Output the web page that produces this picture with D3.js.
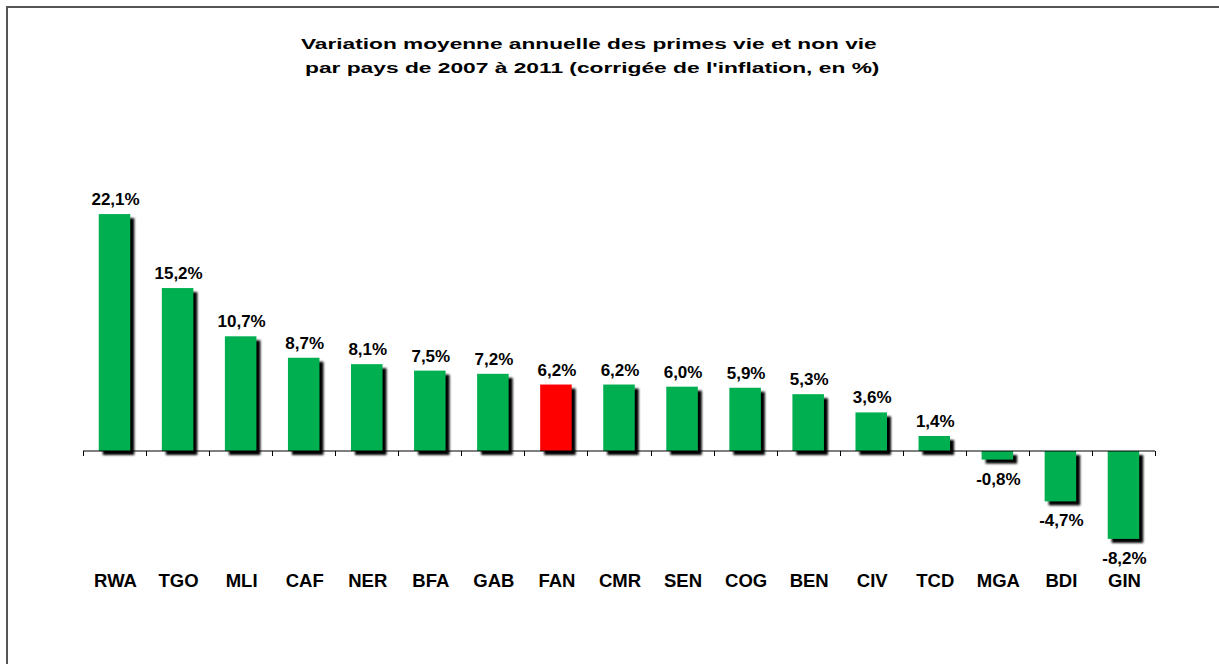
<!DOCTYPE html>
<html>
<head>
<meta charset="utf-8">
<script src="https://cdn.jsdelivr.net/npm/d3@7"></script>
<style>
  body { margin: 0; background: #fff; }
  text { font-family: Arial, "Liberation Sans", sans-serif; font-weight: bold; fill: #000; }
</style>
</head>
<body>
<script>
// data
var countries = ["RWA", "TGO", "MLI", "CAF", "NER", "BFA", "GAB", "FAN", "CMR", "SEN", "COG", "BEN", "CIV", "TCD", "MGA", "BDI", "GIN"];
var values = [22.1, 15.2, 10.7, 8.7, 8.1, 7.5, 7.2, 6.2, 6.2, 6.0, 5.9, 5.3, 3.6, 1.4, -0.8, -4.7, -8.2];
var highlight = ["FAN"];
var titleLines = ["Variation moyenne annuelle des primes vie et non vie",
                  "par pays de 2007 à 2011 (corrigée de l'inflation, en %)"];

var W = 1219, H = 664;

var svg = d3.select("body").append("svg")
    .attr("width", W)
    .attr("height", H);

// soft edge for the bar shadows
var defs = svg.append("defs");
var f = defs.append("filter").attr("id", "blur")
    .attr("x", "-20%").attr("y", "-20%").attr("width", "140%").attr("height", "140%");
f.append("feGaussianBlur").attr("stdDeviation", 0.8);

// frame
svg.append("rect")
    .attr("x", 7).attr("y", 7)
    .attr("width", W + 20).attr("height", H + 20)
    .attr("fill", "none")
    .attr("stroke", "#555")
    .attr("stroke-width", 2);

// title: the original is drawn wide and flat, so fit it to the measured box
var titleX = [301, 305], titleW = [576, 575], titleY = [49, 73];
var titleSize = 20, capH = 11;
svg.selectAll("text.title")
    .data(titleLines)
    .enter().append("text")
    .attr("class", "title")
    .attr("font-size", titleSize)
    .text(function(d) { return d; })
    .attr("transform", function(d, i) {
      var sx = titleW[i] / this.getComputedTextLength();
      var sy = capH / (0.716 * titleSize);
      return "translate(" + titleX[i] + "," + titleY[i] + ") scale(" + sx + "," + sy + ")";
    });

// scales
var x = d3.scaleBand()
    .domain(countries)
    .range([83, 1155])
    .paddingInner(0.5)
    .paddingOuter(0.25);

var y = d3.scaleLinear()
    .domain([-10, 25])
    .range([451 + 10 * 10.72, 451 - 25 * 10.72]);

var bars = svg.append("g");

var rows = countries.map(function(c, i) { return {c: c, v: values[i]}; });

// shadows
bars.selectAll("rect.shadow")
    .data(rows)
    .enter().append("rect")
    .attr("class", "shadow")
    .attr("x", function(d) { return x(d.c) + 4; })
    .attr("y", function(d) { return Math.min(y(d.v), y(0)) + 4; })
    .attr("width", x.bandwidth())
    .attr("height", function(d) { return Math.abs(y(d.v) - y(0)); })
    .attr("fill", "#000")
    .attr("filter", "url(#blur)");

// bars
bars.selectAll("rect.bar")
    .data(rows)
    .enter().append("rect")
    .attr("class", "bar")
    .attr("x", function(d) { return x(d.c); })
    .attr("y", function(d) { return Math.min(y(d.v), y(0)); })
    .attr("width", x.bandwidth())
    .attr("height", function(d) { return Math.abs(y(d.v) - y(0)); })
    .attr("fill", function(d) { return highlight.indexOf(d.c) >= 0 ? "#FF0000" : "#00B050"; });

// zero axis with ticks between categories
var axisScale = d3.scaleLinear().domain([0, countries.length]).range([83, 1155]);
var axis = svg.append("g")
    .attr("transform", "translate(0," + y(0) + ")");
axis.append("line")
    .attr("x1", 83).attr("x2", 1155)
    .attr("stroke", "#000").attr("stroke-width", 1);
axis.selectAll("line.tick")
    .data(d3.range(countries.length + 1))
    .enter().append("line")
    .attr("class", "tick")
    .attr("x1", function(d) { return Math.round(axisScale(d)) + 0.5; })
    .attr("x2", function(d) { return Math.round(axisScale(d)) + 0.5; })
    .attr("y1", 0).attr("y2", 5)
    .attr("stroke", "#000");

// value labels
svg.selectAll("text.val")
    .data(rows)
    .enter().append("text")
    .attr("class", "val")
    .attr("x", function(d) { return x(d.c) + x.bandwidth() / 2 + 1; })
    .attr("y", function(d) { return d.v >= 0 ? y(d.v) - 9 : y(d.v) + 25; })
    .attr("text-anchor", "middle")
    .attr("font-size", 17)
    .text(function(d) { return d3.format(".1f")(d.v).replace(".", ",").replace("−", "-") + "%"; });

// category labels
svg.selectAll("text.cat")
    .data(rows)
    .enter().append("text")
    .attr("class", "cat")
    .attr("x", function(d) { return x(d.c) + x.bandwidth() / 2 + 1; })
    .attr("y", 587)
    .attr("text-anchor", "middle")
    .attr("font-size", 18.5)
    .text(function(d) { return d.c; });
</script>
</body>
</html>
